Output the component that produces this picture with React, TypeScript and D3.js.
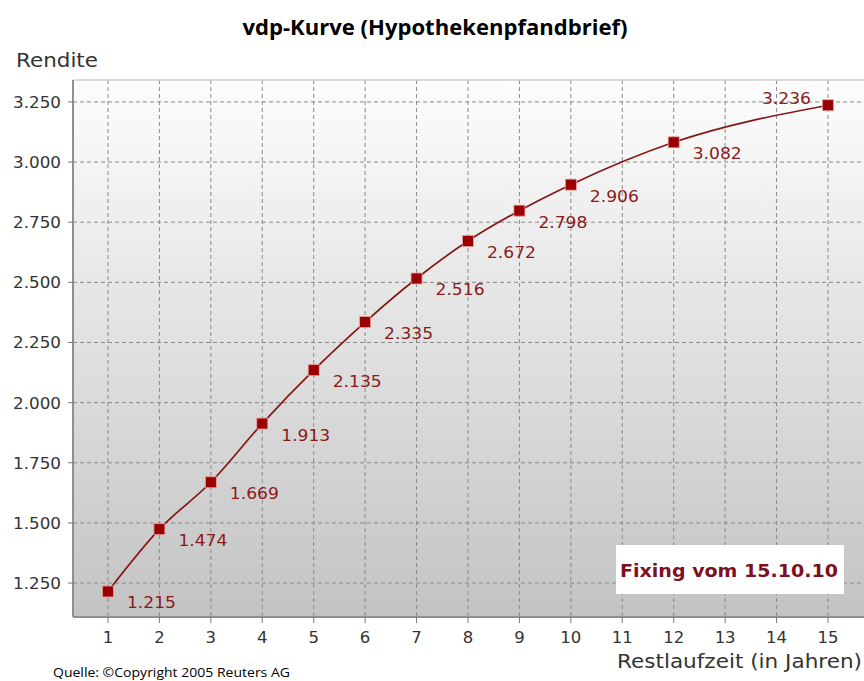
import React from "react";
import { scaleLinear, line, curveMonotoneX, range } from "d3";

// Restlaufzeit in Jahren and the fixing yields
const years = [1, 2, 3, 4, 5, 6, 7, 8, 9, 10, 12, 15];
const yields = [1.215, 1.474, 1.669, 1.913, 2.135, 2.335, 2.516, 2.672, 2.798, 2.906, 3.082, 3.236];
const xTicks = range(1, 16);
const yTicks = [1.25, 1.5, 1.75, 2.0, 2.25, 2.5, 2.75, 3.0, 3.25];

const title = "vdp-Kurve (Hypothekenpfandbrief)";
const yTitle = "Rendite";
const xTitle = "Restlaufzeit (in Jahren)";
const note = "Fixing vom 15.10.10";
const source = "Quelle: ©Copyright 2005 Reuters AG";

const W = 864;
const H = 681;
const left = 73;
const top = 80;
const bottom = 617;
const right = W;

const fontUI = "'DejaVu Sans', Verdana, sans-serif";

export default function App() {
  const xScale = scaleLinear().domain([0.32, 15.7]).range([left, right]);
  const yScale = scaleLinear().domain([1.109, 3.341]).range([bottom, top]);

  const pts = years.map((d, i) => ({ x: d, y: yields[i] }));
  const path = line<{ x: number; y: number }>()
    .x(d => xScale(d.x))
    .y(d => yScale(d.y))
    .curve(curveMonotoneX)(pts);

  return (
    <svg
      width={W}
      height={H}
      viewBox={`0 0 ${W} ${H}`}
      style={{ position: "absolute", left: 0, top: 0, background: "#fff" }}
    >
      <defs>
        <linearGradient id="bg" x1="0" y1="0" x2="0" y2="1">
          <stop offset="0%" stopColor="#fdfdfd" />
          <stop offset="100%" stopColor="#c3c3c3" />
        </linearGradient>
      </defs>

      <text
        x={435}
        y={35}
        textAnchor="middle"
        fontFamily="'Open Sans', 'Liberation Sans', sans-serif"
        fontWeight="bold"
        fontSize={21}
        textLength={385}
        lengthAdjust="spacingAndGlyphs"
        fill="#000"
      >
        {title}
      </text>

      <text x={16} y={67} fontFamily={fontUI} fontSize={20} textLength={82} lengthAdjust="spacingAndGlyphs" fill="#333">
        {yTitle}
      </text>

      {/* plot background */}
      <rect x={left} y={top} width={right - left} height={bottom - top} fill="url(#bg)" />

      {/* grid */}
      <g stroke="#8a8a8a" strokeWidth={1} strokeDasharray="4,3">
        {xTicks.map(t => (
          <line key={"vx" + t} x1={xScale(t)} x2={xScale(t)} y1={top} y2={bottom} />
        ))}
        {yTicks.map(t => (
          <line key={"hy" + t} x1={left} x2={right} y1={yScale(t)} y2={yScale(t)} />
        ))}
      </g>

      {/* borders */}
      <line x1={left} x2={right} y1={top} y2={top} stroke="#cfcfcf" strokeWidth={1.5} />
      <line x1={left} x2={left} y1={top} y2={bottom} stroke="#8f8f8f" strokeWidth={2} />
      <line x1={left} x2={right} y1={bottom} y2={bottom} stroke="#8f8f8f" strokeWidth={2} />

      {/* y axis ticks */}
      {yTicks.map(t => (
        <g key={"yt" + t}>
          <line x1={left - 5} x2={left} y1={yScale(t)} y2={yScale(t)} stroke="#777" />
          <text
            x={61}
            y={yScale(t) + 6}
            textAnchor="end"
            fontFamily={fontUI}
            fontSize={16.5}
            textLength={48}
            lengthAdjust="spacingAndGlyphs"
            fill="#333"
          >
            {t.toFixed(3)}
          </text>
        </g>
      ))}

      {/* x axis ticks */}
      {xTicks.map(t => (
        <g key={"xt" + t}>
          <line x1={xScale(t)} x2={xScale(t)} y1={bottom} y2={bottom + 6} stroke="#777" />
          <text
            x={xScale(t)}
            y={643}
            textAnchor="middle"
            fontFamily={fontUI}
            fontSize={16.5}
            fill="#333"
          >
            {t}
          </text>
        </g>
      ))}

      <text
        x={862}
        y={668}
        textAnchor="end"
        fontFamily={fontUI}
        fontSize={19.5}
        textLength={245}
        lengthAdjust="spacingAndGlyphs"
        fill="#333"
      >
        {xTitle}
      </text>

      {/* series */}
      <path d={path || ""} fill="none" stroke="#871616" strokeWidth={1.7} />
      {pts.map((d, i) => (
        <rect
          key={"m" + i}
          x={xScale(d.x) - 5.5}
          y={yScale(d.y) - 5.5}
          width={11}
          height={11}
          fill="#9a0000"
          stroke="#e9a0a0"
          strokeWidth={0.8}
        />
      ))}
      {pts.map((d, i) => {
        const last = i === pts.length - 1;
        return (
          <text
            key={"l" + i}
            x={last ? xScale(d.x) - 17 : xScale(d.x) + 19}
            y={last ? yScale(d.y) - 1 : yScale(d.y) + 17}
            textAnchor={last ? "end" : "start"}
            fontFamily={fontUI}
            fontSize={16.5}
            textLength={49}
            lengthAdjust="spacingAndGlyphs"
            fill="#8b1a1a"
          >
            {d.y.toFixed(3)}
          </text>
        );
      })}

      {/* fixing note */}
      <rect x={616} y={545} width={228} height={49} fill="#ffffff" />
      <text
        x={729}
        y={577}
        textAnchor="middle"
        fontFamily={fontUI}
        fontWeight="bold"
        fontSize={17}
        textLength={218}
        lengthAdjust="spacingAndGlyphs"
        fill="#7d1020"
      >
        {note}
      </text>

      <text
        x={53}
        y={677}
        fontFamily="'Open Sans', 'Liberation Sans', sans-serif"
        fontSize={12.5}
        textLength={237}
        lengthAdjust="spacingAndGlyphs"
        fill="#000"
      >
        {source}
      </text>
    </svg>
  );
}
